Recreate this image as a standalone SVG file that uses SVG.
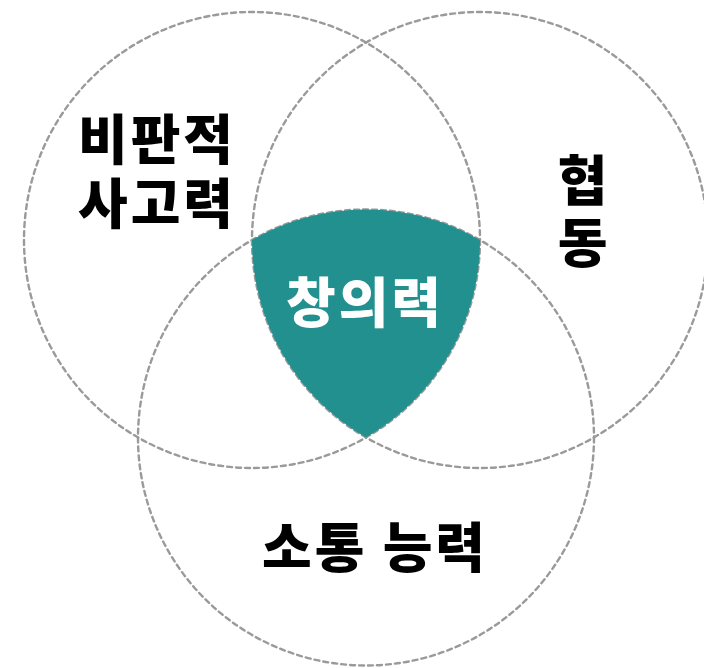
<svg xmlns="http://www.w3.org/2000/svg" width="704" height="668" viewBox="0 0 704 668">
  <style>
    .circle { fill: none; stroke: #9a9a9a; stroke-width: 2.4; stroke-dasharray: 5 4; stroke-linecap: round; }
    .lbl { font-family: "Noto Sans CJK KR", "Noto Sans", sans-serif; font-weight: 900; font-size: 54px; letter-spacing: 3px; fill: #000; text-anchor: middle; }
    .core { fill: #fff; }
  </style>
  <rect width="704" height="668" fill="#ffffff"/>
  <g id="circles">
    <circle id="circle-critical" class="circle" cx="252" cy="240" r="228"/>
    <circle id="circle-collab" class="circle" cx="480" cy="240" r="228"/>
    <circle id="circle-comm" class="circle" cx="366" cy="437.5" r="228"/>
  </g>
  <g id="node-creativity">
    <path d="M252,240 A228,228 0 0 1 480,240 A228,228 0 0 1 366,437.5 A228,228 0 0 1 252,240 Z" fill="#21908f"/>
    <text class="lbl core" x="365" y="323">창의력</text>
  </g>
  <g id="node-critical">
    <text class="lbl" x="157" y="160">비판적</text>
    <text class="lbl" x="157" y="224">사고력</text>
  </g>
  <g id="node-collab">
    <text class="lbl" x="584" y="201">협</text>
    <text class="lbl" x="584" y="263">동</text>
  </g>
  <g id="node-comm">
    <text class="lbl" x="375" y="568">소통 능력</text>
  </g>
</svg>
